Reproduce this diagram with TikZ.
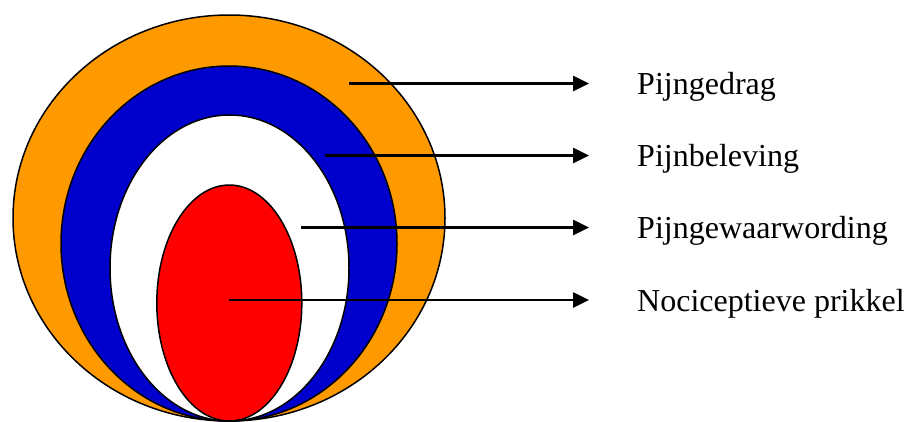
\documentclass[tikz,border=0pt]{standalone}
\usepackage{fontspec}
\setmainfont{Liberation Serif}
\usetikzlibrary{shapes.geometric,arrows.meta,positioning}

\definecolor{gedragorange}{HTML}{FF9900}
\definecolor{belevingblue}{HTML}{0000CC}
\definecolor{prikkelred}{HTML}{FF0000}

\begin{document}
\begin{tikzpicture}[
    x=1pt, y=-1pt,
    ring/.style={ellipse, draw, line width=1.5pt, inner sep=0pt, outer sep=0pt},
    tag/.style={anchor=west, inner sep=0pt, text height=22pt, text depth=0pt, font=\fontsize{32}{38}\selectfont},
    arrow/.style={-{Triangle[length=16pt,width=15pt]}, line width=2.6pt, shorten >=48pt}
]
\useasboundingbox (0,0) rectangle (909,421);

\node[ring, fill=gedragorange, minimum width=432pt, minimum height=406pt] (gedrag) at (229,218) {};
\node[ring, fill=belevingblue, minimum width=336pt, minimum height=355pt] (beleving) at (229,243.5) {};
\node[ring, fill=white, minimum width=239pt, minimum height=306pt] (gewaarwording) at (229.5,268) {};
\node[ring, fill=prikkelred, minimum width=145pt, minimum height=236pt] (prikkel) at (229.3,303) {};

\coordinate (s1) at (349,83.5);
\coordinate (s2) at (325,155.5);
\coordinate (s3) at (301,227.5);
\coordinate (s4) at (229.3,300);

\node[tag] (l1) at (637,83.5) {Pijngedrag};
\node[tag] (l2) at (637,155.5) {Pijnbeleving};
\node[tag] (l3) at (637,227.5) {Pijngewaarwording};
\node[tag] (l4) at (637,300) {Nociceptieve prikkel};

\draw[arrow] (s1) -- (l1.west);
\draw[arrow] (s2) -- (l2.west);
\draw[arrow] (s3) -- (l3.west);
\draw[arrow] (s4) -- (l4.west);
\end{tikzpicture}
\end{document}
